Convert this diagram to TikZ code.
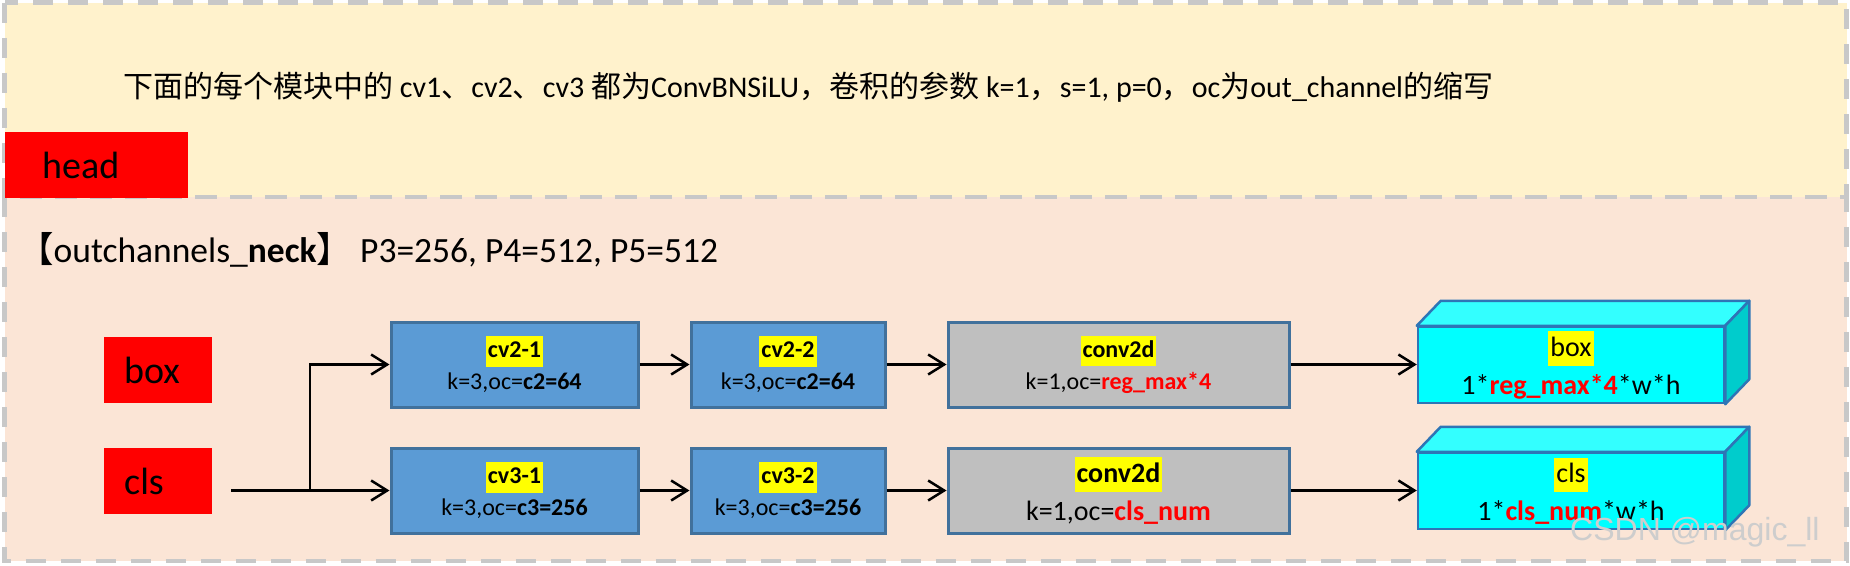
\documentclass[tikz,border=0pt]{standalone}
\usepackage{fontspec}
\setmainfont{Carlito}
\newfontfamily\cjk{Noto Sans CJK SC}
\newfontfamily\wmfont{Liberation Sans}
\usetikzlibrary{arrows.meta,calc}

\definecolor{topfill}{HTML}{FFF2CC}
\definecolor{botfill}{HTML}{FBE5D6}
\definecolor{dashgray}{HTML}{C8C8C8}
\definecolor{convblue}{HTML}{5B9BD5}
\definecolor{convedge}{HTML}{41719C}
\definecolor{convgray}{HTML}{BFBFBF}
\definecolor{cubefront}{HTML}{00FFFF}
\definecolor{cubetop}{HTML}{33FFFF}
\definecolor{cubeside}{HTML}{00CCCC}
\definecolor{cubeedge}{HTML}{2E75B6}
\definecolor{hlyellow}{HTML}{FFFF00}
\definecolor{keyred}{HTML}{FF0000}
\definecolor{markgray}{HTML}{CDCDCD}

% yellow text highlight
\newcommand\hl[1]{{\setlength\fboxsep{2pt}\colorbox{hlyellow}{\rule[-0.28em]{0pt}{1.1em}#1}}}
\newcommand\rd[1]{\textcolor{keyred}{\textbf{#1}}}

\begin{document}
\begin{tikzpicture}[x=1pt,y=-1pt,
  panelborder/.style={draw=dashgray,line width=4.5pt,dash pattern=on 20pt off 15pt},
  redlabel/.style={fill=red,draw=none,align=left,inner ysep=0pt,
    font=\fontsize{38pt}{44pt}\selectfont},
  convbox/.style={draw=convedge,line width=3pt,align=center,inner sep=0pt,
    minimum height=85pt,font=\fontsize{24pt}{32pt}\selectfont},
  bluebox/.style={convbox,fill=convblue},
  graybox/.style={convbox,fill=convgray},
  cubebox/.style={draw=cubeedge,line width=2.5pt,fill=cubefront,align=center,
    inner sep=0pt,minimum width=306pt,minimum height=76pt,
    font=\fontsize{28pt}{38pt}\selectfont},
  cubetopface/.style={fill=cubetop,draw=cubeedge,line width=2.5pt,line join=round},
  cubesideface/.style={fill=cubeside,draw=cubeedge,line width=2.5pt,line join=round},
  flow/.style={draw=black,line width=2.5pt,
    -{Straight Barb[length=16pt,width=20pt]}}
]
\useasboundingbox (0,0) rectangle (1850,565);

% two background panels
\fill[topfill] (4.5,2.5) rectangle (1846.5,197);
\fill[botfill] (4.5,197) rectangle (1846.5,561);
\draw[panelborder] (4.5,2.5) rectangle (1846.5,197);
\draw[panelborder] (4.5,197) rectangle (1846.5,561);

% notes
\node[anchor=west,inner sep=0pt,font=\fontsize{30pt}{36pt}\selectfont] (note) at (123,87)
  {{\cjk 下面的每个模块中的} cv1{\cjk 、}cv2{\cjk 、}cv3 {\cjk 都为}ConvBNSiLU{\cjk ，卷积的参数} k=1{\cjk ，}s=1, p=0{\cjk ，}oc{\cjk 为}out\_channel{\cjk 的缩写}};
\node[anchor=west,inner sep=0pt,font=\fontsize{35.5pt}{42pt}\selectfont] (neckinfo) at (18,250)
  {{\cjk 【}outchannels\_\textbf{neck}{\cjk 】} P3=256, P4=512, P5=512};

% red labels
\node[redlabel,anchor=north west,inner xsep=37pt,text width=109pt,minimum height=66pt] (head) at (5,132) {head};
\node[redlabel,anchor=north west,inner xsep=20pt,text width=68pt,minimum height=66pt] (boxlbl) at (104,337) {box};
\node[redlabel,anchor=north west,inner xsep=20pt,text width=68pt,minimum height=66pt] (clslbl) at (104,448) {cls};

% box branch
\node[bluebox,minimum width=247pt] (cv21) at (514.5,364.5)
  {\hl{\textbf{cv2-1}}\\k=3,oc=\textbf{c2=64}};
\node[bluebox,minimum width=194pt] (cv22) at (788,364.5)
  {\hl{\textbf{cv2-2}}\\k=3,oc=\textbf{c2=64}};
\node[graybox,minimum width=341pt] (convbox) at (1118.5,364.5)
  {\hl{\textbf{conv2d}}\\k=1,oc=\rd{reg\_max*4}};

% cls branch
\node[bluebox,minimum width=247pt] (cv31) at (514.5,490.5)
  {\hl{\textbf{cv3-1}}\\k=3,oc=\textbf{c3=256}};
\node[bluebox,minimum width=194pt] (cv32) at (788,490.5)
  {\hl{\textbf{cv3-2}}\\k=3,oc=\textbf{c3=256}};
\node[graybox,minimum width=341pt,font=\fontsize{28pt}{38pt}\selectfont] (convcls) at (1118.5,490.5)
  {\hl{\textbf{conv2d}}\\k=1,oc=\rd{cls\_num}};

% output tensors drawn as boxes with depth
\node[cubebox] (outbox) at (1571,365)
  {\hl{box}\\1*\rd{reg\_max*4}*w*h};
\node[cubebox] (outcls) at (1571,491)
  {\hl{cls}\\1*\rd{cls\_num}*w*h};
\foreach \c in {outbox,outcls}{
  \filldraw[cubetopface] (\c.north west) -- ++(24,-25) -- ($(\c.north east)+(24,-25)$)
    -- (\c.north east) -- cycle;
  \filldraw[cubesideface] (\c.north east) -- ++(24,-25) -- ($(\c.south east)+(24,-25)$)
    -- (\c.south east) -- cycle;
}

% connectors
\coordinate (src) at (231,490.5);
\coordinate (fork) at (310,490.5);
\draw[flow] (src) -- (cv31.west);
\draw[flow] (fork) |- (cv21.west);
\draw[flow] (cv21) -- (cv22);
\draw[flow] (cv22) -- (convbox);
\draw[flow] (convbox.east) -- (convbox.east -| outbox.west);
\draw[flow] (cv31) -- (cv32);
\draw[flow] (cv32) -- (convcls);
\draw[flow] (convcls.east) -- (convcls.east -| outcls.west);

% signature
\node[anchor=west,inner sep=0pt,text=markgray,font=\wmfont\fontsize{32pt}{36pt}\selectfont] (mark) at (1570,532) {CSDN @magic\_ll};
\end{tikzpicture}
\end{document}
